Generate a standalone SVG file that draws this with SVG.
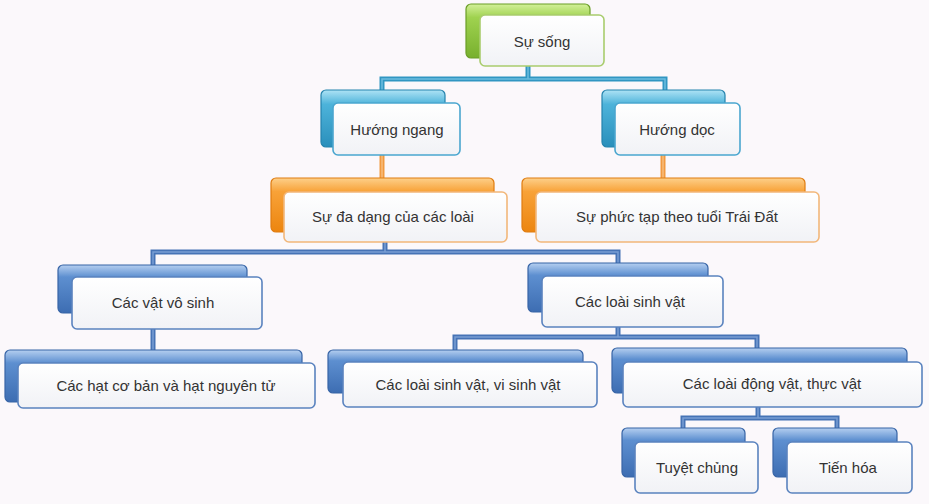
<svg xmlns="http://www.w3.org/2000/svg" width="929" height="504" viewBox="0 0 929 504">
<defs>
<linearGradient id="gGreen" x1="0" y1="0" x2="0" y2="1"><stop offset="0" stop-color="#d3f09a"/><stop offset="0.25" stop-color="#9fd24f"/><stop offset="1" stop-color="#78b02e"/></linearGradient>
<linearGradient id="gTeal" x1="0" y1="0" x2="0" y2="1"><stop offset="0" stop-color="#aee3f5"/><stop offset="0.25" stop-color="#4db3da"/><stop offset="1" stop-color="#2a8fbb"/></linearGradient>
<linearGradient id="gOrange" x1="0" y1="0" x2="0" y2="1"><stop offset="0" stop-color="#fdd08a"/><stop offset="0.25" stop-color="#f8a238"/><stop offset="1" stop-color="#ec850f"/></linearGradient>
<linearGradient id="gBlue" x1="0" y1="0" x2="0" y2="1"><stop offset="0" stop-color="#b5cff0"/><stop offset="0.25" stop-color="#5d8fd0"/><stop offset="1" stop-color="#3d6db2"/></linearGradient>
<linearGradient id="gFront" x1="0" y1="0" x2="0" y2="1"><stop offset="0" stop-color="#ffffff"/><stop offset="1" stop-color="#f1f2f6"/></linearGradient>
</defs>
<style>
.txt{font-family:"Liberation Sans","Open Sans",Arial,sans-serif;font-size:15px;fill:#333333;text-anchor:middle;dominant-baseline:central}
.front{fill:url(#gFront);stroke-width:1.6}
.green .back{fill:url(#gGreen);stroke:#6a9d27;stroke-width:1.2}
.green .front{stroke:#a9cc6d}
.teal .back{fill:url(#gTeal);stroke:#2483ad;stroke-width:1.2}
.teal .front{stroke:#4aa6cf}
.orange .back{fill:url(#gOrange);stroke:#e07c10;stroke-width:1.2}
.orange .front{stroke:#f2b77a}
.blue .back{fill:url(#gBlue);stroke:#3764a6;stroke-width:1.2}
.blue .front{stroke:#5a83bf}
.con{fill:none;stroke-linejoin:miter}
.conT{stroke:#3196c2;stroke-width:5}
.conTi{stroke:#6cbde0;stroke-width:1.5}
.conO{stroke:#f19a40;stroke-width:5}
.conOi{stroke:#f8bd7c;stroke-width:1.5}
.conB{stroke:#4673b5;stroke-width:5}
.conBi{stroke:#7a9fd4;stroke-width:1.5}
</style>
<rect width="929" height="504" fill="#fbf8fb"/>
<g id="connectors">
<path class="con conT" d="M528,66 V79 M382,92 V79 H665 V92"/>
<path class="con conTi" d="M528,66 V79 M382,92 V79 H665 V92"/>
<path class="con conO" d="M382,155 V180 M663,155 V180"/>
<path class="con conOi" d="M382,155 V180 M663,155 V180"/>
<path class="con conB" d="M385,242 V252 M153,266 V252 H618 V264 M153,329 V351 M618,327 V337 M455,351 V337 H757 V349 M758,407 V418 M683,429 V418 H837 V429"/>
<path class="con conBi" d="M385,242 V252 M153,266 V252 H618 V264 M153,329 V351 M618,327 V337 M455,351 V337 H757 V349 M758,407 V418 M683,429 V418 H837 V429"/>
</g>
<g id="su-song" class="green">
<rect class="back" x="466" y="4" width="124" height="54" rx="5"/>
<rect class="front" x="480" y="15" width="124" height="51" rx="5"/>
<text class="txt" x="542" y="41">Sự sống</text>
</g>
<g id="huong-ngang" class="teal">
<rect class="back" x="321" y="90" width="124" height="57" rx="5"/>
<rect class="front" x="333" y="103" width="127" height="52" rx="5"/>
<text class="txt" x="397" y="129">Hướng ngang</text>
</g>
<g id="huong-doc" class="teal">
<rect class="back" x="602" y="90" width="123" height="57" rx="5"/>
<rect class="front" x="615" y="103" width="125" height="52" rx="5"/>
<text class="txt" x="677" y="129">Hướng dọc</text>
</g>
<g id="su-da-dang" class="orange">
<rect class="back" x="271" y="178" width="223" height="54" rx="5"/>
<rect class="front" x="284" y="192" width="223" height="50" rx="5"/>
<text class="txt" x="393" y="216">Sự đa dạng của các loài</text>
</g>
<g id="su-phuc-tap" class="orange">
<rect class="back" x="522" y="178" width="283" height="54" rx="5"/>
<rect class="front" x="536" y="192" width="283" height="50" rx="5"/>
<text class="txt" x="677" y="216">Sự phức tạp theo tuổi Trái Đất</text>
</g>
<g id="vo-sinh" class="blue">
<rect class="back" x="58" y="265" width="189" height="48" rx="5"/>
<rect class="front" x="72" y="277" width="190" height="52" rx="5"/>
<text class="txt" x="163" y="302">Các vật vô sinh</text>
</g>
<g id="cac-hat" class="blue">
<rect class="back" x="5" y="350" width="297" height="52" rx="5"/>
<rect class="front" x="18" y="363" width="297" height="45" rx="5"/>
<text class="txt" x="166" y="385">Các hạt cơ bản và hạt nguyên tử</text>
</g>
<g id="sinh-vat" class="blue">
<rect class="back" x="528" y="263" width="180" height="49" rx="5"/>
<rect class="front" x="542" y="276" width="181" height="51" rx="5"/>
<text class="txt" x="630" y="301">Các loài sinh vật</text>
</g>
<g id="vi-sinh-vat" class="blue">
<rect class="back" x="328" y="350" width="255" height="43" rx="5"/>
<rect class="front" x="343" y="362" width="254" height="45" rx="5"/>
<text class="txt" x="468" y="384">Các loài sinh vật, vi sinh vật</text>
</g>
<g id="dong-thuc-vat" class="blue">
<rect class="back" x="612" y="348" width="295" height="45" rx="5"/>
<rect class="front" x="623" y="362" width="299" height="45" rx="5"/>
<text class="txt" x="772" y="383">Các loài động vật, thực vật</text>
</g>
<g id="tuyet-chung" class="blue">
<rect class="back" x="622" y="428" width="123" height="49" rx="5"/>
<rect class="front" x="635" y="442" width="123" height="51" rx="5"/>
<text class="txt" x="697" y="467">Tuyệt chủng</text>
</g>
<g id="tien-hoa" class="blue">
<rect class="back" x="773" y="428" width="124" height="49" rx="5"/>
<rect class="front" x="787" y="442" width="125" height="51" rx="5"/>
<text class="txt" x="848" y="467">Tiến hóa</text>
</g>
</svg>
